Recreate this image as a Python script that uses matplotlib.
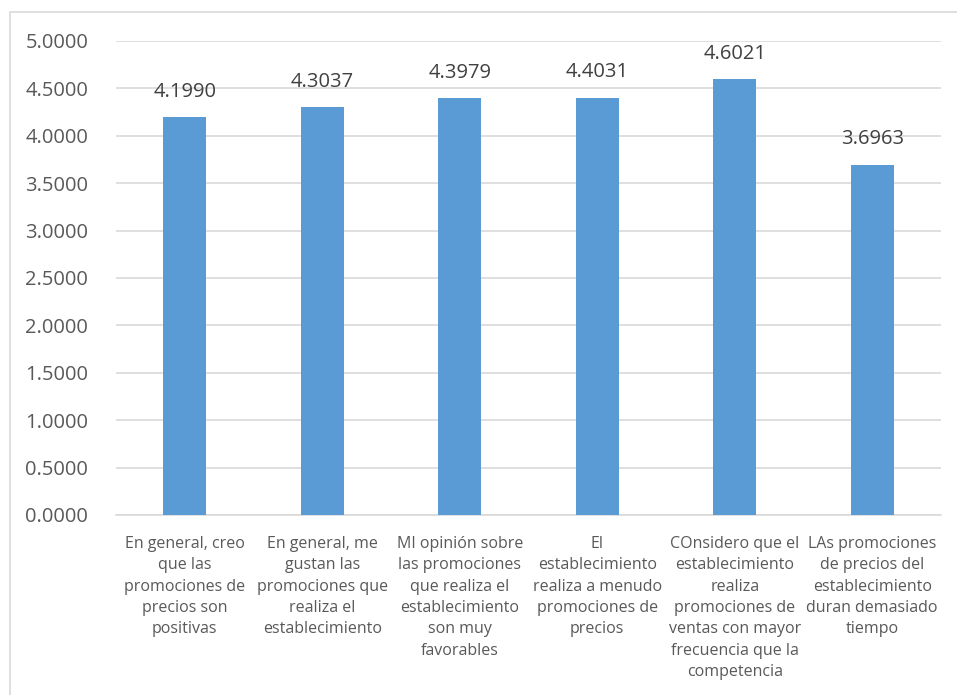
import matplotlib.pyplot as plt
from matplotlib.patches import Rectangle

# item labels (kept as written in the survey)
labels = [
    "En general, creo\nque las\npromociones de\nprecios son\npositivas",
    "En general, me\ngustan las\npromociones que\nrealiza el\nestablecimiento",
    "MI opinión sobre\nlas promociones\nque realiza el\nestablecimiento\nson muy\nfavorables",
    "El\nestablecimiento\nrealiza a menudo\npromociones de\nprecios",
    "COnsidero que el\nestablecimiento\nrealiza\npromociones de\nventas con mayor\nfrecuencia que la\ncompetencia",
    "LAs promociones\nde precios del\nestablecimiento\nduran demasiado\ntiempo",
]
means = [4.1990, 4.3037, 4.3979, 4.4031, 4.6021, 3.6963]
yticks = [0, 0.5, 1.0, 1.5, 2.0, 2.5, 3.0, 3.5, 4.0, 4.5, 5.0]

plt.rcParams['font.family'] = ['Open Sans', 'DejaVu Sans']
txt = '#595959'
bar_color = '#5B9BD5'

fig = plt.figure(figsize=(9.57, 6.95), dpi=100)
ax = fig.add_axes([116/957, 1 - 515/695, (941 - 116)/957, (515 - 41)/695])

x = range(len(means))
ax.bar(x, means, width=0.31, color=bar_color, zorder=3)

for i, v in enumerate(means):
    ax.text(i, v + 0.16, f"{v:.4f}", ha='center', va='bottom', fontsize=14.5, color='#404040')

ax.set_xlim(-0.5, len(means) - 0.5)
ax.set_ylim(0, 5)
ax.set_yticks(yticks)
ax.set_yticklabels([f"{t:.4f}" for t in yticks], fontsize=14.5, color=txt)
ax.set_xticks(list(x))
ax.set_xticklabels(labels, fontsize=11.5, color=txt, linespacing=1.45, va='top')

ax.grid(axis='y', color='#D9D9D9', linewidth=1.2, zorder=0)
for s in ['top', 'right', 'left']:
    ax.spines[s].set_visible(False)
ax.spines['bottom'].set_color('#D9D9D9')
ax.spines['bottom'].set_linewidth(1.2)
ax.tick_params(axis='both', length=0)
ax.tick_params(axis='y', pad=20)
ax.tick_params(axis='x', pad=15)

# outer chart border
fig.patches.append(Rectangle((10/957, -0.05), 1.1, 1 - 12/695 + 0.05, transform=fig.transFigure,
                             fill=False, edgecolor='#D9D9D9', linewidth=1.2))

fig.savefig('out.png', dpi=100)
